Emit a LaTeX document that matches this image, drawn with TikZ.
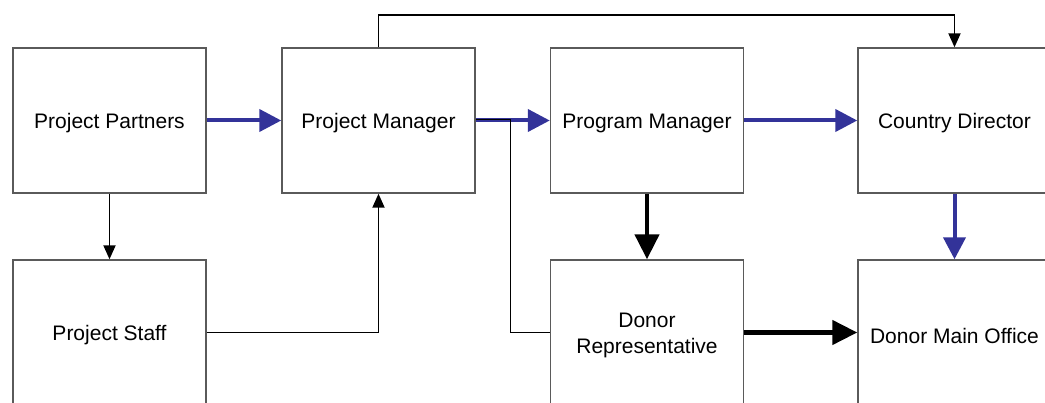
\documentclass[tikz,border=0pt]{standalone}
\usepackage{fontspec}
\setmainfont{Liberation Sans}
\usetikzlibrary{arrows.meta}
\definecolor{flowblue}{RGB}{51,51,153}
\definecolor{boxgray}{RGB}{90,90,90}
\newcommand{\lowtxt}[1]{\raisebox{-3pt}[\height][\depth]{#1}}
\tikzset{
  box/.style={draw=boxgray, line width=1.4pt, fill=white, minimum width=193pt, minimum height=145pt,
    inner sep=0pt, align=center, font=\fontsize{21}{26}\selectfont},
  bluearrow/.style={draw=flowblue, line width=4pt, -{Triangle[length=22pt,width=22pt]}},
  thickarrow/.style={draw=black, line width=4.5pt, -{Triangle[length=25pt,width=24pt]}},
  thinarrow/.style={draw=black, line width=1.9pt, -{Triangle[length=14pt,width=12pt]}},
  thinline/.style={draw=black, line width=1.9pt},
}
\begin{document}
\begin{tikzpicture}[x=1pt,y=-1pt]
\useasboundingbox (0,0) rectangle (1045,403);
\clip (0,0) rectangle (1045,403);
\node[box] (pp)  at (109.5,120.5) {\lowtxt{Project Partners}};
\node[box] (pm)  at (378.5,120.5) {\lowtxt{Project Manager}};
\node[box] (pgm) at (647,120.5) {\lowtxt{Program Manager}};
\node[box] (cd)  at (954.5,120.5) {\lowtxt{Country Director}};
\node[box] (ps)  at (109.5,332.5) {\lowtxt{Project Staff}};
\node[box] (dr)  at (647,332.5) {\lowtxt{Donor}\\\lowtxt{Representative}};
\node[box] (dmo) at (954.5,332.5) {\lowtxt{Donor Main Office}};
\coordinate (topc) at (954.5,15);
\coordinate (jn) at (510.5,119.5);
% thin connectors
\draw[thinarrow] (pp) -- (ps);
\draw[thinarrow] (ps.east) -| (pm.south);
\draw[thinarrow] (pm.north) |- (topc) -- (cd.north);
% blue flows
\draw[bluearrow] (pp) -- (pm);
\draw[bluearrow] (pm) -- (pgm);
\draw[bluearrow] (pgm) -- (cd);
\draw[bluearrow] (cd) -- (dmo);
% thin line branching to donor representative
\draw[thinline] (pm.east |- jn) -- (jn) |- (dr.west);
% thick black flows
\draw[thickarrow] (pgm) -- (dr);
\draw[thickarrow] (dr) -- (dmo);
\end{tikzpicture}
\end{document}
